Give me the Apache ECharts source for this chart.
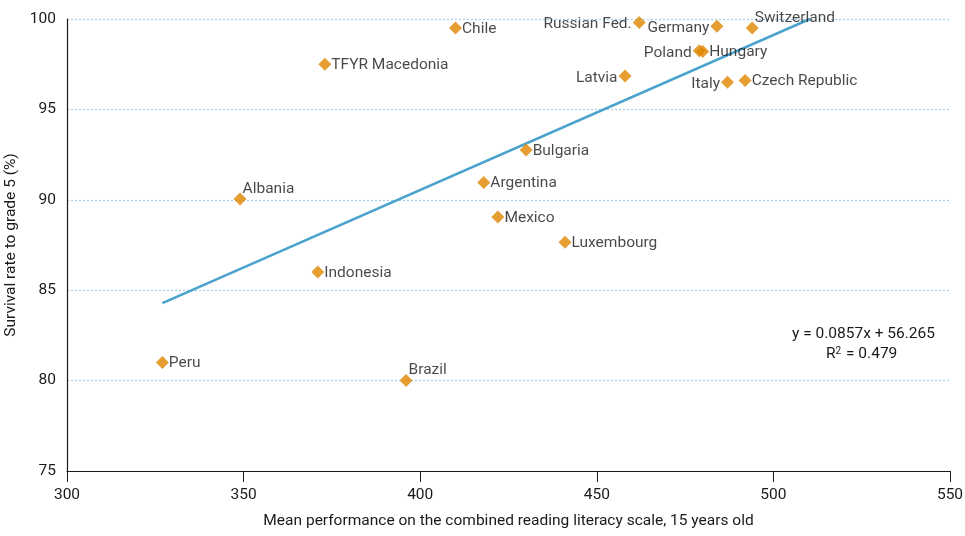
<!DOCTYPE html>
<html>
<head>
<meta charset="utf-8">
<script src="https://cdn.jsdelivr.net/npm/echarts@6/dist/echarts.min.js"></script>
<style>
  html, body { margin: 0; padding: 0; background: #fff; }
  #chart { width: 965px; height: 536px; }
</style>
</head>
<body>
<div id="chart"></div>
<script>
  // countries and their values
  const countries = ['Peru', 'Brazil', 'Albania', 'Indonesia', 'TFYR Macedonia', 'Chile', 'Argentina', 'Mexico',
    'Bulgaria', 'Luxembourg', 'Latvia', 'Russian Fed.', 'Germany', 'Poland', 'Hungary', 'Italy', 'Czech Republic', 'Switzerland'];
  const readingScores = [327, 396, 349, 371, 373, 410, 418, 422, 430, 441, 458, 462, 484, 479, 480, 487, 492, 494];
  const survivalRates = [81.0, 80.0, 90.05, 86.0, 97.5, 99.5, 90.95, 89.05, 92.75, 87.65, 96.85, 99.8, 99.6, 98.25, 98.2, 96.5, 96.6, 99.5];
  // where each label sits
  const labelPlaces = ['right', 'above', 'above', 'right', 'right', 'right', 'right', 'right',
    'right', 'right', 'left', 'left', 'left', 'left', 'right', 'left', 'right', 'above'];

  const slope = 0.0857;
  const intercept = 56.265;
  const rSquared = 0.479;

  const xTicks = [300, 350, 400, 450, 500, 550];
  const yTicks = [75, 80, 85, 90, 95, 100];

  const font = 'Roboto, "Noto Sans", sans-serif';

  const points = countries.map((name, i) => {
    const place = labelPlaces[i];
    let label;
    if (place === 'left') {
      label = { position: 'left', distance: 1, offset: [0, 2] };
    } else if (place === 'above') {
      label = { position: 'right', distance: 0, offset: [-4, -10] };
    } else {
      label = { position: 'right', distance: 0, offset: [0, 1] };
    }
    return { name, value: [readingScores[i], survivalRates[i]], label };
  });

  // trend line from the lowest score until it reaches 100
  const xStart = Math.min(...readingScores);
  const xEnd = (100 - intercept) / slope;
  const trend = [[xStart, slope * xStart + intercept], [xEnd, slope * xEnd + intercept]];

  const chart = echarts.init(document.getElementById('chart'));
  chart.setOption({
    animation: false,
    textStyle: { fontFamily: font },
    grid: { left: 67, right: 15, top: 19, bottom: 65, outerBoundsMode: 'none', containLabel: false },
    xAxis: {
      type: 'value',
      min: xTicks[0],
      max: xTicks[xTicks.length - 1],
      interval: 50,
      name: 'Mean performance on the combined reading literacy scale, 15 years old',
      nameLocation: 'middle',
      nameGap: 42,
      nameTextStyle: { fontSize: 15.5, color: '#1a1a1a', fontFamily: font },
      axisLine: { lineStyle: { color: '#1a1a1a', width: 1.2 } },
      axisTick: { show: true, length: 11, lineStyle: { color: '#1a1a1a' } },
      axisLabel: { fontSize: 15.5, color: '#1a1a1a', margin: 16, fontFamily: font },
      splitLine: { show: false }
    },
    yAxis: {
      type: 'value',
      min: yTicks[0],
      max: yTicks[yTicks.length - 1],
      interval: 5,
      name: 'Survival rate to grade 5 (%)',
      nameLocation: 'middle',
      nameGap: 40,
      nameTextStyle: { fontSize: 15.5, color: '#1a1a1a', fontFamily: font, padding: [0, 0, -12, 0] },
      axisLine: { show: true, lineStyle: { color: '#1a1a1a', width: 1.2 } },
      axisTick: { show: false },
      axisLabel: { fontSize: 15.5, color: '#1a1a1a', margin: 11, fontFamily: font },
      splitLine: { show: true, lineStyle: { color: '#a3cde8', type: [2, 2], width: 1.2 } }
    },
    series: [
      {
        type: 'line',
        data: trend,
        symbol: 'none',
        lineStyle: { color: '#4aa3cc', width: 2.5 },
        z: 2
      },
      {
        type: 'scatter',
        data: points,
        symbol: 'diamond',
        symbolSize: 13,
        itemStyle: { color: '#e08600' },
        label: {
          show: true,
          formatter: '{b}',
          fontSize: 15.5,
          color: '#1a1a1a',
          fontFamily: font
        },
        z: 3
      }
    ],
    graphic: [
      {
        type: 'text',
        left: 792,
        top: 326,
        style: {
          text: 'y = ' + slope + 'x + ' + intercept,
          font: '15.5px ' + font,
          fill: '#1a1a1a'
        }
      },
      {
        type: 'text',
        left: 826,
        top: 346,
        style: {
          text: '{a|R}{s|2}{a| = ' + rSquared + '}',
          rich: {
            a: { font: '15.5px ' + font, fill: '#1a1a1a', verticalAlign: 'bottom' },
            s: { font: '10px ' + font, fill: '#1a1a1a', verticalAlign: 'top', padding: [0, 1, 6, 0] }
          }
        }
      }
    ]
  });
</script>
</body>
</html>
